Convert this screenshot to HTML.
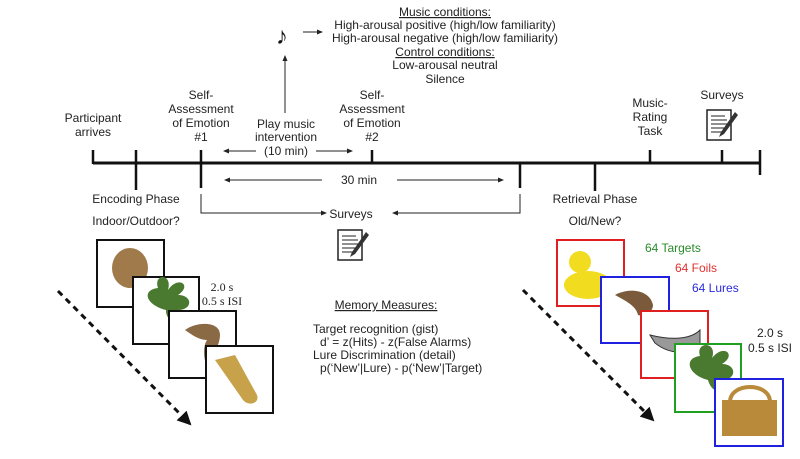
<!DOCTYPE html>
<html><head><meta charset="utf-8"><style>
body{margin:0;background:#fff;}
svg text{font-family:"Liberation Sans",sans-serif;font-size:12px;fill:#222;}
</style></head><body>
<svg width="800" height="454" viewBox="0 0 800 454" xmlns="http://www.w3.org/2000/svg">
<defs>
<marker id="a" markerWidth="6" markerHeight="6" refX="5" refY="3" orient="auto" markerUnits="userSpaceOnUse"><path d="M0,0.5 L6,3 L0,5.5z" fill="#222"/></marker>
<marker id="b" markerWidth="14" markerHeight="14" refX="12" refY="7" orient="auto" markerUnits="userSpaceOnUse"><path d="M0,0 L14,7 L0,14z" fill="#111"/></marker>
<g id="doc"><rect x="0" y="4" width="24" height="30" fill="#fff" stroke="#222" stroke-width="1.5"/><path d="M4,10h14M4,14h16M4,18h16M4,22h16M4,26h14" stroke="#222" stroke-width="1"/><path d="M28,6 L14,26 L12,31 L17,28 L31,9z" fill="#333"/></g>
</defs>
<g text-anchor="middle">
<text x="445" y="16" text-decoration="underline">Music conditions:</text>
<text x="445" y="29">High-arousal positive (high/low familiarity)</text>
<text x="445" y="42">High-arousal negative (high/low familiarity)</text>
<text x="445" y="56" text-decoration="underline">Control conditions:</text>
<text x="445" y="69">Low-arousal neutral</text>
<text x="445" y="83">Silence</text>
</g>
<text x="276" y="44" style="font-size:24px;fill:#111">♪</text>
<line x1="303" y1="32" x2="322" y2="32" stroke="#222" marker-end="url(#a)"/>
<line x1="285" y1="113" x2="285" y2="56" stroke="#222" marker-end="url(#a)"/>
<line x1="93" y1="163" x2="760" y2="163" stroke="#111" stroke-width="3"/>
<g stroke="#111" stroke-width="2.5">
<line x1="93" y1="150" x2="93" y2="164"/>
<line x1="136" y1="150" x2="136" y2="190"/>
<line x1="201" y1="150" x2="201" y2="188"/>
<line x1="372" y1="150" x2="372" y2="164"/>
<line x1="520" y1="163" x2="520" y2="188"/>
<line x1="595" y1="163" x2="595" y2="191"/>
<line x1="650" y1="150" x2="650" y2="164"/>
<line x1="722" y1="150" x2="722" y2="164"/>
<line x1="760" y1="150" x2="760" y2="175"/>
</g>
<g text-anchor="middle">
<text x="93" y="122">Participant</text><text x="93" y="136">arrives</text>
<text x="201" y="99">Self-</text><text x="201" y="113">Assessment</text><text x="201" y="127">of Emotion</text><text x="201" y="141">#1</text>
<text x="286" y="128">Play music</text><text x="286" y="141">intervention</text><text x="286" y="155">(10 min)</text>
<text x="372" y="99">Self-</text><text x="372" y="113">Assessment</text><text x="372" y="127">of Emotion</text><text x="372" y="141">#2</text>
<text x="650" y="107">Music-</text><text x="650" y="121">Rating</text><text x="650" y="135">Task</text>
<text x="722" y="99">Surveys</text>
<text x="359" y="184">30 min</text>
<text x="136" y="203">Encoding Phase</text><text x="136" y="225">Indoor/Outdoor?</text>
<text x="351" y="218">Surveys</text>
<text x="595" y="203">Retrieval Phase</text><text x="595" y="225">Old/New?</text>
</g>
<use href="#doc" x="707" y="106"/>
<use href="#doc" x="338" y="226"/>
<g stroke="#222" fill="none">
<line x1="256" y1="151" x2="224" y2="151" marker-end="url(#a)"/>
<line x1="316" y1="151" x2="352" y2="151" marker-end="url(#a)"/>
<line x1="322" y1="180" x2="225" y2="180" marker-end="url(#a)"/>
<line x1="397" y1="180" x2="503" y2="180" marker-end="url(#a)"/>
<polyline points="201,194 201,213 326,213" marker-end="url(#a)"/>
<polyline points="520,194 520,213 393,213" marker-end="url(#a)"/>
</g>
<g stroke="#111" stroke-width="2">
<rect x="97" y="240" width="67" height="67" fill="#fff"/>
<ellipse cx="130" cy="268" rx="18" ry="20" fill="#a07a4a" stroke="none"/>
<rect x="133" y="277" width="66" height="67" fill="#fff"/>
<path d="M166,310 c-20,-5 -25,-20 -8,-22 c-5,-15 15,-15 10,2 c10,-15 25,-5 10,5 c15,0 15,15 0,15 c5,15 -10,15 -12,2z" fill="#4a7a30" stroke="none"/>
<rect x="169" y="311" width="67" height="67" fill="#fff"/>
<path d="M185,330 c10,-8 35,-10 35,5 c0,10 -8,20 -8,35 c-5,5 -12,-20 -5,-30 c-8,0 -15,-5 -22,-10z" fill="#8a6a45" stroke="none"/>
<rect x="206" y="346" width="67" height="67" fill="#fff"/>
<path d="M215,360 l20,-5 l22,40 c3,8 -8,12 -14,5z" fill="#c7a24a" stroke="none"/>
</g>
<text x="222" y="291" text-anchor="middle" style="font-family:'Liberation Serif',serif">2.0 s</text>
<text x="222" y="305" text-anchor="middle" style="font-family:'Liberation Serif',serif">0.5 s ISI</text>
<line x1="58" y1="291" x2="190" y2="424" stroke="#111" stroke-width="3" stroke-dasharray="6,5" marker-end="url(#b)"/>
<text x="386" y="309" text-anchor="middle" text-decoration="underline">Memory Measures:</text>
<text x="313" y="333">Target recognition (gist)</text>
<text x="320" y="346">d’ = z(Hits) - z(False Alarms)</text>
<text x="313" y="359">Lure Discrimination (detail)</text>
<text x="320" y="372">p(‘New’|Lure) - p(‘New’|Target)</text>
<g stroke-width="2">
<rect x="557" y="240" width="67" height="66" fill="#fff" stroke="#e02020"/>
<ellipse cx="588" cy="285" rx="24" ry="14" fill="#f2dc20"/>
<circle cx="580" cy="262" r="11" fill="#f2dc20"/>
<rect x="601" y="277" width="68" height="66" fill="#fff" stroke="#2020e0"/>
<path d="M615,295 c15,-8 35,-5 38,10 c0,8 -10,12 -15,10 c-2,-8 -8,-12 -23,-20z" fill="#7a5a3a"/>
<rect x="641" y="311" width="67" height="67" fill="#fff" stroke="#e02020"/>
<path d="M650,335 c20,5 40,5 50,-5 l0,15 c-10,10 -30,10 -45,-2z" fill="#999" stroke="#333" stroke-width="1"/>
<rect x="675" y="344" width="66" height="68" fill="#fff" stroke="#20a020"/>
<path d="M708,380 c-20,-5 -25,-22 -8,-24 c-5,-15 18,-15 12,2 c12,-15 25,-3 10,6 c15,0 15,16 0,16 c5,15 -10,15 -14,0z" fill="#4a7a30"/>
<rect x="715" y="379" width="68" height="67" fill="#fff" stroke="#2020e0"/>
<rect x="722" y="400" width="55" height="36" fill="#b88a3a"/>
<path d="M730,402 c0,-20 40,-20 40,0" fill="none" stroke="#b88a3a" stroke-width="4"/>
</g>
<text x="645" y="252" style="fill:#2a8a2a">64 Targets</text>
<text x="675" y="272" style="fill:#e03030">64 Foils</text>
<text x="692" y="292" style="fill:#2a2ae0">64 Lures</text>
<text x="770" y="337" text-anchor="middle">2.0 s</text>
<text x="770" y="352" text-anchor="middle">0.5 s ISI</text>
<line x1="523" y1="290" x2="653" y2="420" stroke="#111" stroke-width="3" stroke-dasharray="6,5" marker-end="url(#b)"/>
</svg>
</body></html>
